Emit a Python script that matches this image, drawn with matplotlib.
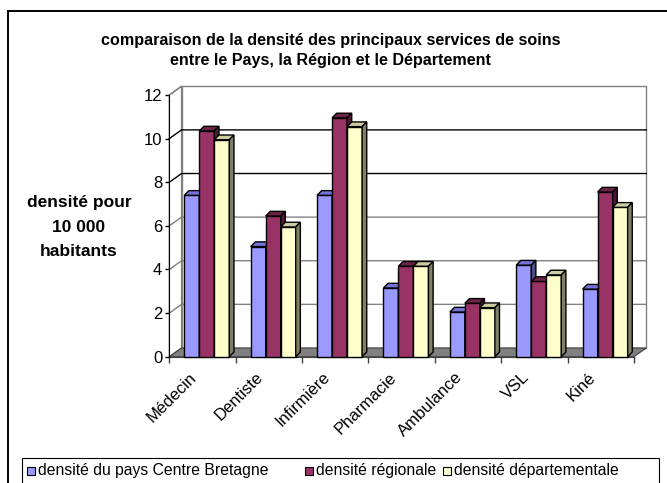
import matplotlib
matplotlib.use("Agg")
import matplotlib.pyplot as plt
from matplotlib.patches import Polygon, Rectangle

plt.rcParams['font.family'] = ['Liberation Sans', 'DejaVu Sans']

categories = ['Médecin', 'Dentiste', 'Infirmière', 'Pharmacie', 'Ambulance', 'VSL', 'Kiné']
pays = [7.4, 5.05, 7.4, 3.15, 2.05, 4.2, 3.1]
regionale = [10.35, 6.45, 10.95, 4.15, 2.45, 3.45, 7.55]
departementale = [9.95, 5.95, 10.55, 4.15, 2.25, 3.75, 6.85]
series_names = ['densité du pays Centre Bretagne', 'densité régionale', 'densité départementale']
yticks = [0, 2, 4, 6, 8, 10, 12]

# front / top / side colours for each series
colors = [
    ('#9999ff', '#7373d9', '#4d4d80'),
    ('#993366', '#6b2447', '#4d1a33'),
    ('#ffffcc', '#ccccA3', '#808066'),
]

W, H = 667, 483


def fx(x):
    return x / W


def fy(y):
    return 1 - y / H


fig = plt.figure(figsize=(W / 100, H / 100), dpi=100)

# outer chart border and legend box (pixel coordinates)
fig.patches.append(Rectangle((fx(8), fy(490)), fx(670 - 8), fy(11) - fy(490),
                             transform=fig.transFigure, fill=False, lw=1.4, ec='black'))
fig.patches.append(Rectangle((fx(21.7), fy(490)), fx(658.7 - 21.7), fy(458.3) - fy(490),
                             transform=fig.transFigure, fill=False, lw=0.8, ec='black'))

ax = fig.add_axes([fx(169.3), fy(356.7), fx(634 - 169.3), fy(95) - fy(356.7)])
n = len(categories)
ax.set_xlim(0, n)
ax.set_ylim(0, 12)
ax.patch.set_visible(False)
for s in ['top', 'right']:
    ax.spines[s].set_visible(False)
ax.spines['left'].set_zorder(6)

ddx, ddy = 0.185, 0.40       # depth of the chart walls
bdx, bdy = 0.07, 0.215       # depth of a bar
bw = 0.226                   # bar width
g0 = 0.226                   # gap before first bar of a group

# back wall
ax.add_patch(Polygon([(ddx, ddy), (n + ddx, ddy), (n + ddx, 12 + ddy), (ddx, 12 + ddy)],
                     closed=True, fc='white', ec='#808080', lw=1, clip_on=False, zorder=1))
# side wall
ax.add_patch(Polygon([(0, 0), (ddx, ddy), (ddx, 12 + ddy), (0, 12)],
                     closed=True, fc='white', ec='#808080', lw=1, clip_on=False, zorder=1))
for v in yticks[1:-1]:
    c = 'black' if v >= 8 else '#808080'
    ax.plot([0, ddx, n + ddx], [v, v + ddy, v + ddy], color=c, lw=1, clip_on=False, zorder=2)
ax.plot([0, ddx], [12, 12 + ddy], color='#808080', lw=1, clip_on=False, zorder=2)
# floor
ax.add_patch(Polygon([(0, 0), (n, 0), (n + ddx, ddy), (ddx, ddy)],
                     closed=True, fc='#808080', ec='#404040', lw=0.8, clip_on=False, zorder=3))

# bars
for i in range(n):
    vals = [pays[i], regionale[i], departementale[i]]
    for j, v in enumerate(vals):
        x0 = i + g0 + j * bw
        x1 = x0 + bw
        front, top, side = colors[j]
        z = 4 + j * 0.01
        ax.add_patch(Polygon([(x0, 0), (x1, 0), (x1, v), (x0, v)], closed=True,
                             fc=front, ec='black', lw=1, clip_on=False, zorder=z))
        ax.add_patch(Polygon([(x0, v), (x1, v), (x1 + bdx, v + bdy), (x0 + bdx, v + bdy)],
                             closed=True, fc=top, ec='black', lw=1, clip_on=False, zorder=z))
        ax.add_patch(Polygon([(x1, 0), (x1 + bdx, bdy), (x1 + bdx, v + bdy), (x1, v)],
                             closed=True, fc=side, ec='black', lw=1, clip_on=False, zorder=z))

# axes ticks
ax.set_yticks(yticks)
ax.tick_params(axis='y', length=3, width=1, pad=2, labelsize=12)
ax.set_xticks(range(n + 1))
ax.set_xticklabels([])
ax.tick_params(axis='x', which='major', length=4, width=1, color='#404040', direction='out')
ax.spines['bottom'].set_color('#404040')
ax.set_xticks([i + 0.38 for i in range(n)], minor=True)
ax.set_xticklabels(categories, minor=True, rotation=45, ha='right',
                   rotation_mode='anchor', fontsize=12)
ax.tick_params(axis='x', which='minor', length=0, pad=13)
for lab in ax.get_xticklabels(minor=True):
    lab.set_va('center')

# title and y label
fig.text(fx(331), fy(41), 'comparaison de la densité des principaux services de soins',
         ha='center', va='center', fontsize=11.6, fontweight='bold')
fig.text(fx(331), fy(61), 'entre le Pays, la Région et le Département',
         ha='center', va='center', fontsize=11.6, fontweight='bold')
fig.text(fx(79), fy(227), 'densité pour\n10 000\nhabitants', ha='center', va='center',
         fontsize=12.5, fontweight='bold', linespacing=1.75)

# legend
leg_x = [27, 305, 443]
for k, name in enumerate(series_names):
    fig.patches.append(Rectangle((fx(leg_x[k]), fy(475)), fx(8), fy(467) - fy(475),
                                 transform=fig.transFigure, fc=colors[k][0], ec='black', lw=0.8))
    fig.text(fx(leg_x[k] + 11), fy(471), name, ha='left', va='center', fontsize=11.3)

fig.savefig('out.png', dpi=100)
